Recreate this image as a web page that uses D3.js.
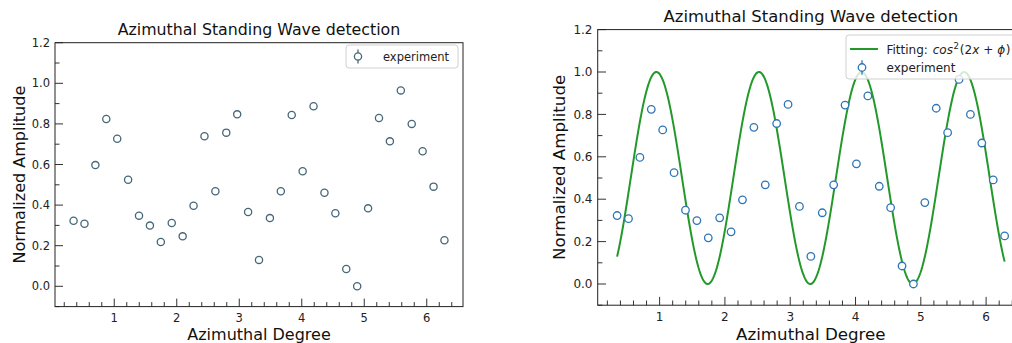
<!DOCTYPE html>
<html>
<head>
<meta charset="utf-8">
<script src="https://cdn.jsdelivr.net/npm/d3@7"></script>
<style>
  html, body { margin: 0; padding: 0; background: #fff; }
  svg { display: block; font-family: "DejaVu Sans", sans-serif; }
</style>
</head>
<body>
<svg id="fig" width="1012" height="343"></svg>
<script>
// Measured azimuthal positions (degrees) and normalized amplitudes
const angleDeg = [20, 30, 40, 50, 60, 70, 80, 90, 100, 110, 120, 130, 140, 150, 160, 170, 180,
                  190, 200, 210, 220, 230, 240, 250, 260, 270, 280, 290, 300, 310, 320, 330, 340, 350, 360];
const amplitude = [0.323, 0.308, 0.597, 0.824, 0.727, 0.525, 0.348, 0.299, 0.218, 0.312, 0.246, 0.397,
                   0.739, 0.468, 0.757, 0.847, 0.366, 0.130, 0.336, 0.468, 0.844, 0.567, 0.887, 0.461,
                   0.360, 0.085, 0.000, 0.384, 0.829, 0.714, 0.965, 0.800, 0.665, 0.491, 0.227];
// Phase of the fitted model cos^2(2x + phi)
const fitPhase = 1.24;

const xTicks = [1, 2, 3, 4, 5, 6];
const yTicks = [0.0, 0.2, 0.4, 0.6, 0.8, 1.0, 1.2];
const xDomain = [0.052, 6.58];
const yDomain = [-0.1, 1.2];

const points = angleDeg.map((d, i) => ({ x: d * Math.PI / 180, y: amplitude[i] }));
const xs = points.map(p => p.x);
const fitX = d3.range(0, 401).map(i => d3.min(xs) + (d3.max(xs) - d3.min(xs)) * i / 400);
const fitLine = fitX.map(x => ({ x, y: Math.pow(Math.cos(2 * x + fitPhase), 2) }));

const svg = d3.select("#fig");
const title = "Azimuthal Standing Wave detection";

function panel(opt) {
  const s = opt.scale;
  const g = svg.append("g");
  const x = d3.scaleLinear().domain(xDomain).range([opt.left, opt.right]);
  const y = d3.scaleLinear().domain(yDomain).range([opt.bottom, opt.top]);
  const clipId = "clip" + opt.id;
  svg.append("clipPath").attr("id", clipId).append("rect")
    .attr("x", opt.left).attr("y", opt.top)
    .attr("width", opt.right - opt.left).attr("height", opt.bottom - opt.top);

  // ticks (inward, major + minor)
  const xMinor = d3.range(2, 66, 2).map(v => v / 10).filter(v => v % 1 !== 0 && v > xDomain[0] && v < xDomain[1]);
  const yMinor = d3.range(-1, 13, 1).map(v => v / 10).filter(v => Math.round(v * 10) % 2 !== 0);
  const tickG = g.append("g").attr("stroke", "#333").attr("stroke-width", 1);
  xTicks.forEach(t => tickG.append("line").attr("x1", x(t)).attr("x2", x(t))
    .attr("y1", opt.bottom).attr("y2", opt.bottom - 8 * s));
  xMinor.forEach(t => tickG.append("line").attr("x1", x(t)).attr("x2", x(t))
    .attr("y1", opt.bottom).attr("y2", opt.bottom - 4.5 * s));
  yTicks.forEach(t => tickG.append("line").attr("x1", opt.left).attr("x2", opt.left + 8 * s)
    .attr("y1", y(t)).attr("y2", y(t)));
  yMinor.forEach(t => tickG.append("line").attr("x1", opt.left).attr("x2", opt.left + 4.5 * s)
    .attr("y1", y(t)).attr("y2", y(t)));

  // tick labels
  const lab = g.append("g").attr("font-size", 11.5 * s).attr("fill", "#222");
  xTicks.forEach(t => lab.append("text").attr("x", x(t)).attr("y", opt.bottom + 15 * s)
    .attr("text-anchor", "middle").text(d3.format("d")(t)));
  yTicks.forEach(t => lab.append("text").attr("x", opt.left - 5 * s).attr("y", y(t) + 4 * s)
    .attr("text-anchor", "end").text(d3.format(".1f")(t)));

  // data layer
  const data = g.append("g").attr("clip-path", `url(#${clipId})`);
  if (opt.fit) {
    data.append("path").datum(fitLine)
      .attr("fill", "none").attr("stroke", "#23992a").attr("stroke-width", 2)
      .attr("d", d3.line().x(d => x(d.x)).y(d => y(d.y)));
  }
  data.selectAll("circle").data(points).join("circle")
    .attr("cx", d => x(d.x)).attr("cy", d => y(d.y)).attr("r", 3.6 * s)
    .attr("fill", "#fff").attr("stroke", opt.markerColor).attr("stroke-width", 1.3);

  // frame
  g.append("rect").attr("x", opt.left).attr("y", opt.top)
    .attr("width", opt.right - opt.left).attr("height", opt.bottom - opt.top)
    .attr("fill", "none").attr("stroke", "#222").attr("stroke-width", 1);

  // title and axis labels
  g.append("text").attr("x", (opt.left + opt.right) / 2).attr("y", opt.top - 7.5 * s)
    .attr("text-anchor", "middle").attr("font-size", 15.8 * s).attr("fill", "#111").text(title);
  g.append("text").attr("x", (opt.left + opt.right) / 2).attr("y", 339.5)
    .attr("text-anchor", "middle").attr("font-size", 16 * s).attr("fill", "#111").text("Azimuthal Degree");
  g.append("text")
    .attr("transform", `translate(${opt.ylabX},${(opt.top + opt.bottom) / 2}) rotate(-90)`)
    .attr("text-anchor", "middle").attr("font-size", 16 * s).attr("fill", "#111").text("Normalized Amplitude");

  return { g, x, y };
}

function errMarker(g, cx, cy, color, s) {
  g.append("line").attr("x1", cx).attr("x2", cx).attr("y1", cy - 7 * s).attr("y2", cy + 7 * s)
    .attr("stroke", color).attr("stroke-width", 1.3);
  g.append("circle").attr("cx", cx).attr("cy", cy).attr("r", 3.6 * s)
    .attr("fill", "#fff").attr("stroke", color).attr("stroke-width", 1.3);
}

// Left panel: measurements only
const left = panel({ id: "L", scale: 1, left: 55, right: 463, top: 42.7, bottom: 306.6, ylabX: 24.5, markerColor: "#466778" });
const legL = left.g.append("g");
legL.append("rect").attr("x", 346).attr("y", 45).attr("width", 112).attr("height", 23).attr("rx", 3)
  .attr("fill", "#fff").attr("fill-opacity", 0.8).attr("stroke", "#d0d0d0");
errMarker(legL, 358, 56.5, "#466778", 1);
legL.append("text").attr("x", 383).attr("y", 60.5).attr("font-size", 11.5).attr("fill", "#222").text("experiment");

// Right panel: measurements with fitted model
const rs = 1.043;
const right = panel({ id: "R", scale: rs, left: 597.7, right: 1024, top: 29.6, bottom: 305.2, ylabX: 565, markerColor: "#2f75b5", fit: true });
const legR = right.g.append("g");
legR.append("rect").attr("x", 846).attr("y", 35).attr("width", 180).attr("height", 44).attr("rx", 3)
  .attr("fill", "#fff").attr("fill-opacity", 0.8).attr("stroke", "#d0d0d0");
legR.append("line").attr("x1", 850).attr("x2", 878).attr("y1", 49).attr("y2", 49)
  .attr("stroke", "#23992a").attr("stroke-width", 2);
const ft = legR.append("text").attr("x", 886.5).attr("y", 53.5).attr("font-size", 12).attr("fill", "#222");
ft.append("tspan").text("Fitting: ");
ft.append("tspan").attr("dx", 1).attr("font-style", "italic").text("cos");
ft.append("tspan").attr("font-size", 8.5).attr("dy", -5).attr("dx", 0.5).text("2");
ft.append("tspan").attr("dy", 5).attr("dx", 1).text("(2");
ft.append("tspan").attr("font-style", "italic").text("x");
ft.append("tspan").attr("dx", 4).text("+");
ft.append("tspan").attr("dx", 4).attr("font-style", "italic").text("ϕ");
ft.append("tspan").attr("dx", 0.5).text(")");
errMarker(legR, 862, 67.5, "#2f75b5", rs);
legR.append("text").attr("x", 886.5).attr("y", 72).attr("font-size", 12).attr("fill", "#222").text("experiment");
</script>
</body>
</html>
